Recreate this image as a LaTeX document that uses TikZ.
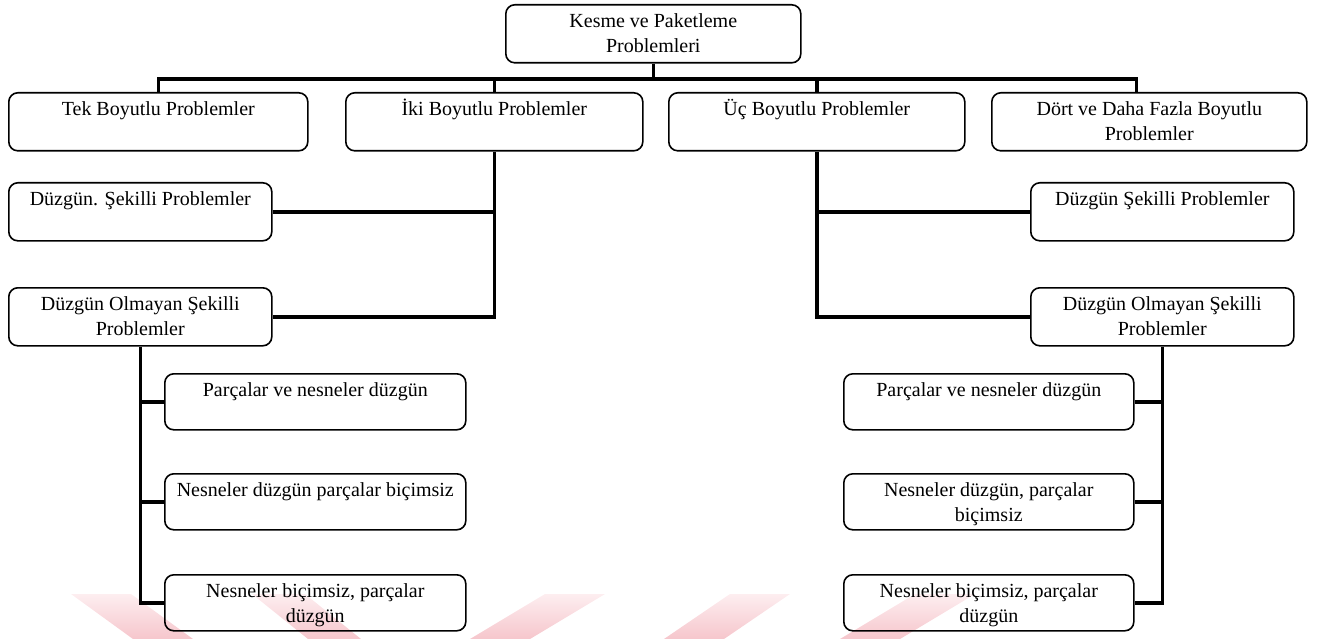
\documentclass[tikz,border=0pt]{standalone}
\usepackage{fontspec}
\setmainfont{Liberation Serif}
\definecolor{wmtop}{RGB}{253,238,240}
\definecolor{wmbot}{RGB}{246,198,204}
% fixed-size box content: text starts at the top of the box
\newcommand{\bx}[3]{\parbox[c][#2][t]{#1}{\centering\rule{0pt}{23pt}#3}}
\tikzset{
  box/.style={draw, line width=1.6pt, rounded corners=9pt, inner sep=0pt,
              anchor=north west, font=\fontsize{20pt}{25pt}\selectfont},
  conn/.style={draw, line width=3.6pt, line join=miter},
  wm/.style={top color=wmtop, bottom color=wmbot, draw=none}
}
\begin{document}
\begin{tikzpicture}[x=1pt, y=-1pt]
\useasboundingbox (0,0) rectangle (1317,639);

% faint stripes along the bottom edge
\shade[wm] (71,594) -- (131,594) -- (193,639) -- (133,639) -- cycle;
\shade[wm] (252,594) -- (305,594) -- (361,639) -- (308,639) -- cycle;
\shade[wm] (545,594) -- (605,594) -- (530,639) -- (470,639) -- cycle;
\shade[wm] (730,594) -- (790,594) -- (724,639) -- (664,639) -- cycle;
\shade[wm] (915,594) -- (975,594) -- (900,639) -- (840,639) -- cycle;

% root
\node[box] (root) at (505,4) {\bx{295pt}{58pt}{Kesme ve Paketleme\\Problemleri}};

% first level
\node[box] (tek)  at (8,92)   {\bx{299pt}{58pt}{Tek Boyutlu Problemler}};
\node[box] (iki)  at (345,92) {\bx{297pt}{58pt}{İki Boyutlu Problemler}};
\node[box] (uc)   at (668,92) {\bx{296pt}{58pt}{Üç Boyutlu Problemler}};
\node[box] (dort) at (991,92) {\bx{315pt}{58pt}{Dört ve Daha Fazla Boyutlu\\Problemler}};

% second level
\node[box] (duzL) at (8,182)    {\bx{263pt}{58pt}{Düzgün. Şekilli Problemler}};
\node[box] (dolL) at (8,287)    {\bx{263pt}{58pt}{Düzgün Olmayan Şekilli\\Problemler}};
\node[box] (duzR) at (1030,182) {\bx{263pt}{58pt}{Düzgün Şekilli Problemler}};
\node[box] (dolR) at (1030,287) {\bx{263pt}{58pt}{Düzgün Olmayan Şekilli\\Problemler}};

% third level, left
\node[box] (pL1) at (164,373) {\bx{301pt}{56pt}{Parçalar ve nesneler düzgün}};
\node[box] (pL2) at (164,473) {\bx{301pt}{56pt}{Nesneler düzgün parçalar biçimsiz}};
\node[box] (pL3) at (164,574) {\bx{301pt}{56pt}{Nesneler biçimsiz, parçalar\\düzgün}};

% third level, right
\node[box] (pR1) at (843,373) {\bx{290pt}{56pt}{Parçalar ve nesneler düzgün}};
\node[box] (pR2) at (843,473) {\bx{290pt}{56pt}{Nesneler düzgün, parçalar\\biçimsiz}};
\node[box] (pR3) at (843,574) {\bx{290pt}{56pt}{Nesneler biçimsiz, parçalar\\düzgün}};

% connectors
\coordinate (bus) at (0,79);
\coordinate (dtop) at ([xshift=-13pt]dort.north);
\draw[conn] (root.south) -- (root.south |- bus);
\draw[conn] (tek.north) |- (dtop |- bus) -- (dtop);
\draw[conn] (iki.north |- bus) -- (iki.north);
\draw[conn] (uc.north |- bus) -- (uc.north);

\draw[conn] (iki.south) |- (dolL.east);
\draw[conn] (duzL.east) -- (duzL.east -| iki.south);
\draw[conn] (uc.south) |- (dolR.west);
\draw[conn] (duzR.west) -- (duzR.west -| uc.south);

\draw[conn] (dolL.south) |- (pL3.west);
\draw[conn] (pL1.west) -- (pL1.west -| dolL.south);
\draw[conn] (pL2.west) -- (pL2.west -| dolL.south);

\draw[conn] (dolR.south) |- (pR3.east);
\draw[conn] (pR1.east) -- (pR1.east -| dolR.south);
\draw[conn] (pR2.east) -- (pR2.east -| dolR.south);
\end{tikzpicture}
\end{document}
